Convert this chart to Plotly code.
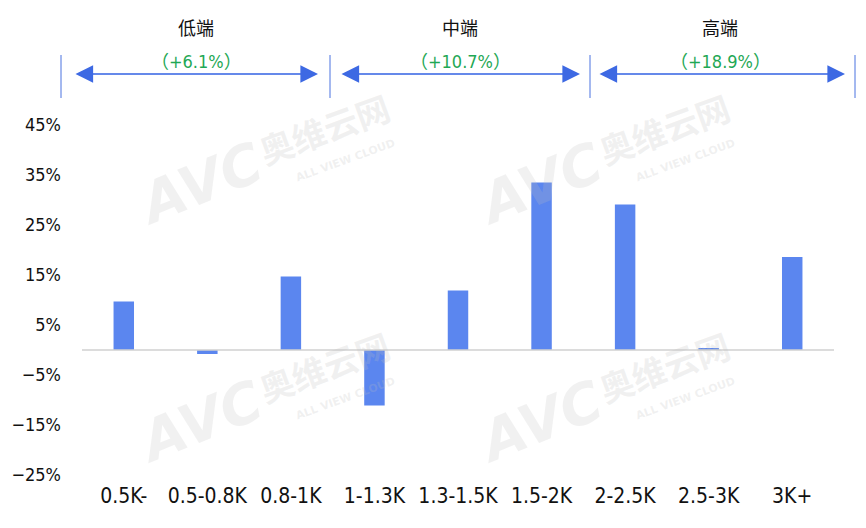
import plotly.graph_objects as go

categories = ["0.5K-", "0.5-0.8K", "0.8-1K", "1-1.3K", "1.3-1.5K", "1.5-2K", "2-2.5K", "2.5-3K", "3K+"]
growth = [9.7, -0.8, 14.7, -11.1, 11.9, 33.5, 29.1, 0.4, 18.6]
y_ticks = [-25, -15, -5, 5, 15, 25, 35, 45]
segments = ["低端", "中端", "高端"]
segment_growth = ["（+6.1%）", "（+10.7%）", "（+18.9%）"]

W, H = 866, 528
L, R, T, B = 82, 32, 125, 53
PW, PH = W - L - R, H - T - B

def px(x):
    return (x - L) / PW

def py(y):
    return 1 - (y - T) / PH

FONT = "DejaVu Sans Condensed, DejaVu Sans, sans-serif"

fig = go.Figure()
fig.add_trace(go.Bar(
    x=categories, y=growth,
    marker=dict(color="#5b86ef", line=dict(width=0)),
    width=0.245,
    hoverinfo="x+y",
))

shapes = []
annotations = []

# zero line
shapes.append(dict(type="line", xref="paper", yref="y", x0=0, x1=1, y0=0, y1=0,
                   line=dict(color="#d0d0d0", width=1.5), layer="above"))

# segment dividers
for xv in [61, 330, 590, 855]:
    shapes.append(dict(type="line", xref="paper", yref="paper",
                       x0=px(xv), x1=px(xv), y0=py(98), y1=py(55),
                       line=dict(color="#4a72e0", width=1)))

arrow_spans = [(74, 318), (340, 580), (598, 845)]
label_x = [196, 460, 720]
for (a, b), lx, seg, g in zip(arrow_spans, label_x, segments, segment_growth):
    shapes.append(dict(type="line", xref="paper", yref="paper",
                       x0=px(a + 10), x1=px(b - 10), y0=py(74), y1=py(74),
                       line=dict(color="#8eaaf0", width=2)))
    annotations.append(dict(xref="paper", yref="paper", x=px(b), y=py(74),
                            ax=-(b - a), ay=0, text="", showarrow=True,
                            arrowhead=2, startarrowhead=2, arrowside="end+start",
                            arrowsize=3.2, startarrowsize=3.2, arrowwidth=1.1,
                            arrowcolor="#3d69e3"))
    annotations.append(dict(xref="paper", yref="paper", x=px(lx), y=py(27),
                            xanchor="center", yanchor="middle",
                            text=seg, showarrow=False,
                            font=dict(family="Noto Sans CJK SC", size=18, color="#111111")))
    annotations.append(dict(xref="paper", yref="paper", x=px(lx), y=py(61),
                            xanchor="center", yanchor="middle",
                            text=g, showarrow=False,
                            font=dict(family="DejaVu Sans Condensed, Noto Sans CJK SC", size=18, color="#1fa855")))

# watermarks
wm = "rgba(190,190,190,0.22)"
for ox, oy in [(0, 0), (340, 0), (0, 238), (340, 238)]:
    annotations.append(dict(xref="paper", yref="paper", x=px(200 + ox), y=py(183 + oy),
                            xanchor="center", yanchor="middle",
                            text="<b><i>AVC</i></b>", showarrow=False, textangle=-22,
                            font=dict(family="DejaVu Sans", size=56, color=wm)))
    annotations.append(dict(xref="paper", yref="paper", x=px(324 + ox), y=py(128 + oy),
                            xanchor="center", yanchor="middle",
                            text="<b>奥维云网</b>", showarrow=False, textangle=-20,
                            font=dict(family="Noto Sans CJK SC", size=34, color=wm)))
    annotations.append(dict(xref="paper", yref="paper", x=px(345 + ox), y=py(160 + oy),
                            xanchor="center", yanchor="middle",
                            text="<b>ALL VIEW CLOUD</b>", showarrow=False, textangle=-20,
                            font=dict(family="DejaVu Sans", size=11, color=wm)))

fig.update_layout(
    width=W, height=H,
    margin=dict(l=L, r=R, t=T, b=B, autoexpand=False),
    paper_bgcolor="white", plot_bgcolor="white",
    showlegend=False,
    bargap=0.75,
    font=dict(family=FONT, size=18, color="#111111"),
    xaxis=dict(showgrid=False, zeroline=False, showline=False, ticks="",
               tickfont=dict(family=FONT, size=21, color="#111111"),
               ticklabelstandoff=6,
               range=[-0.5, 8.5]),
    yaxis=dict(range=[-25, 45], tickvals=y_ticks, ticktext=[f"{v}%".replace("-", "−") for v in y_ticks],
               showgrid=False, zeroline=False, showline=False, ticks="",
               ticklabelstandoff=20,
               tickfont=dict(family=FONT, size=18, color="#111111")),
    shapes=shapes,
    annotations=annotations,
)

fig.write_html("out.html", config={"displayModeBar": False},
               post_script="document.body.style.margin='0px';")
